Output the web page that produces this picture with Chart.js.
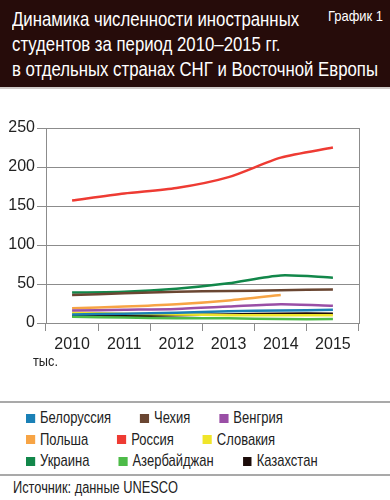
<!DOCTYPE html>
<html><head><meta charset="utf-8">
<script src="https://cdn.jsdelivr.net/npm/chart.js@4/dist/chart.umd.min.js"></script>
<style>
html,body{margin:0;padding:0;background:#fff;}
body{width:390px;height:500px;position:relative;overflow:hidden;font-family:"Liberation Sans","Roboto",sans-serif;}
#head{position:absolute;left:0;top:0;width:390px;height:87px;background:#260c0a;border-bottom:2px solid #cfcac8;}
#title{position:absolute;left:12px;top:6px;color:#fff;font-size:21px;line-height:25px;white-space:nowrap;transform-origin:0 0;}
#badge{position:absolute;left:328px;top:7px;color:#fff;font-size:15px;white-space:nowrap;transform-origin:0 0;}
#wrap{position:absolute;left:0;top:95px;width:390px;height:300px;}
#unit{position:absolute;left:33px;top:353px;font-size:14px;color:#222;white-space:nowrap;transform-origin:0 0;}
#legend{position:absolute;left:0;top:401px;width:390px;height:71px;border-top:2px solid #a9a9a9;border-bottom:2px solid #a9a9a9;}
.row{position:absolute;left:26px;display:flex;white-space:nowrap;font-size:17px;line-height:20px;color:#222;transform-origin:0 50%;}
.it{display:flex;align-items:center;}
.sw{display:inline-block;height:9px;}
#src{position:absolute;left:13px;top:479px;font-size:16px;color:#222;white-space:nowrap;transform-origin:0 0;}
</style></head>
<body>
<div id="head"><div id="title">Динамика численности иностранных<br>студентов за период 2010–2015 гг.<br><span id="t3">в отдельных странах СНГ и Восточной Европы</span></div><div id="badge">График 1</div></div>
<div id="wrap"><canvas id="c" width="390" height="300"></canvas></div>
<div id="unit">тыс.</div>
<div id="legend"></div>
<div id="src">Источник: данные UNESCO</div>
<script>
const years = ["2010","2011","2012","2013","2014","2015"];
const yTicks = [0,50,100,150,200,250];
const names = ["Белоруссия","Чехия","Венгрия","Польша","Россия","Словакия","Украина","Азербайджан","Казахстан"];
const colors = ["#1a80b6","#6a4632","#9a4fa6","#f7a445","#ee3b33","#f0e52a","#12874a","#4dbb48","#1c0c09"];
const belarus    = [11, 12, 13, 15, 16, 17];
const czech      = [36, 38, 40, 41, 42, 43];
const hungary    = [16, 17, 18, 21, 24, 22];
const poland     = [19, 21, 24, 29, 36, null];
const russia     = [157, 166, 173, 187, 212, 225];
const slovakia   = [13, 12, 11, 10, 10, 10];
const ukraine    = [39, 40, 44, 51, 61, 58];
const azerbaijan = [8, 7, 6, 6, 5, 5];
const kazakhstan = [9, 9, 10, 11, 12, 12];
const series = [belarus, czech, hungary, poland, russia, slovakia, ukraine, azerbaijan, kazakhstan];

const datasets = series.map((d,i)=>({label:names[i],data:d,borderColor:colors[i],backgroundColor:colors[i],borderWidth:2.5,pointRadius:0,tension:0.25,fill:false}));

const rightBorder = {id:'rb',afterDraw(ch){const a=ch.chartArea,c=ch.ctx;c.save();c.strokeStyle='#8c8c8c';c.lineWidth=1;c.beginPath();c.moveTo(a.right+0.5,a.top);c.lineTo(a.right+0.5,a.bottom);c.stroke();c.restore();}};

const tickFont = {family:'"Liberation Sans","Roboto",sans-serif',size:16};
new Chart(document.getElementById('c'),{
 type:'line',
 data:{labels:years,datasets},
 plugins:[rightBorder],
 options:{
  responsive:false,animation:false,
  layout:{padding:{left:0,right:31,top:33,bottom:0}},
  plugins:{legend:{display:false},tooltip:{enabled:false}},
  scales:{
   x:{offset:true,
      grid:{display:true,drawOnChartArea:false,drawTicks:true,tickLength:8,color:'#8c8c8c',offset:true},
      border:{display:true,color:'#8c8c8c'},
      ticks:{color:'#222',font:tickFont,padding:4},
      afterFit(s){s.height=72;}
   },
   y:{min:0,max:250,
      afterBuildTicks(s){s.ticks=yTicks.map(v=>({value:v}));},
      grid:{color:'#8c8c8c',lineWidth:1,drawTicks:true,tickLength:9},
      border:{display:true,color:'#8c8c8c'},
      ticks:{color:'#222',font:tickFont,padding:2},
      afterFit(s){s.width=46;}
   }
  }
 }
});

function fitX(el, target, ref){
 const w=(ref||el).getBoundingClientRect().width;
 const s=target/w; el.style.transform='scaleX('+s+')'; return s;
}
fitX(document.getElementById('title'),366,document.getElementById('t3'));
fitX(document.getElementById('badge'),55);
fitX(document.getElementById('unit'),25);
fitX(document.getElementById('src'),165);

// HTML legend built from dataset names/colors
const rows=[[0,1,2],[3,4,5],[6,7,8]];
const lg=document.getElementById('legend');
rows.forEach((r,ri)=>{
 const row=document.createElement('div');row.className='row';row.style.top=(5+ri*21.5)+'px';
 lg.appendChild(row);
 r.forEach(i=>{const it=document.createElement('div');it.className='it';
  const sw=document.createElement('span');sw.className='sw';sw.style.background=colors[i];
  const t=document.createElement('span');t.textContent=names[i];t.className='tx';
  it.appendChild(sw);it.appendChild(t);row.appendChild(it);});
});
// condense legend text to the reference width
const probe=lg.querySelector('.tx');
const s=71/probe.getBoundingClientRect().width;
lg.querySelectorAll('.row').forEach(row=>{
 row.style.transform='scaleX('+s+')';
 row.querySelectorAll('.sw').forEach(sw=>{sw.style.width=(9/s)+'px';sw.style.marginRight=(5/s)+'px';});
 row.querySelectorAll('.it').forEach(it=>{it.style.marginRight=(29/s)+'px';});
});
</script>
</body></html>
